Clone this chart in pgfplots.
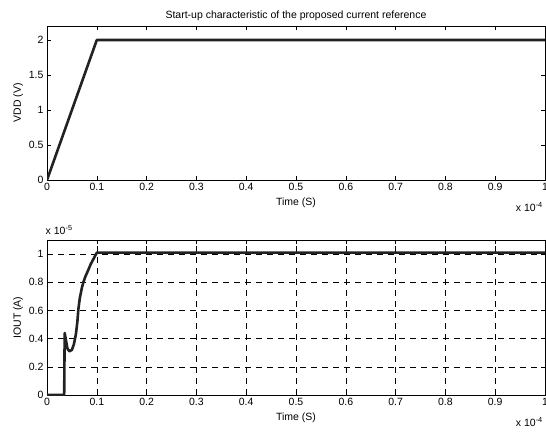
\documentclass[border=0pt]{standalone}
\usepackage{pgfplots}
\pgfplotsset{compat=1.18}
\usepackage{fontspec}
\setmainfont{Liberation Sans}
\definecolor{trace}{HTML}{222222}

\pgfplotsset{
  myax/.style={
    scale only axis, width=498pt, height=154pt,
    xmin=0, xmax=1, xtick={0,0.1,...,1.01},
    xticklabels={0,0.1,0.2,0.3,0.4,0.5,0.6,0.7,0.8,0.9,1},
    tick align=inside, major tick length=4pt,
    tick style={black, line width=0.4pt}, axis line style={black, line width=0.5pt},
    ticklabel style={font=\fontsize{10.5}{11}\selectfont},
    label style={font=\fontsize{10.5}{11}\selectfont},
    /pgf/number format/assume math mode=true,
    xlabel={Time (S)},
    ylabel style={yshift=-1pt},
    clip mode=individual,
  }
}

\begin{document}
\begin{tikzpicture}
\useasboundingbox (0pt,0pt) rectangle (546pt,434pt);

\begin{axis}[myax, at={(47pt,254pt)}, anchor=south west,
  ymin=0, ymax=2.2, ytick={0,0.5,1,1.5,2},
  yticklabels={0,0.5,1,1.5,2},
  ylabel={VDD (V)},
  title={Start-up characteristic of the proposed current reference},
  title style={font=\fontsize{10.5}{11}\selectfont, yshift=-4pt},
]
\addplot[trace, line width=2.6pt, line join=round] coordinates {(0,0) (0.1,2) (1,2)};
\node[font=\fontsize{10.5}{11}\selectfont, anchor=north east, inner sep=1pt] at (rel axis cs:0.998,-0.14) {x 10\textsuperscript{-4}};
\end{axis}

\begin{axis}[myax, at={(47pt,39pt)}, anchor=south west, height=155pt,
  ymin=0, ymax=1.1, ytick={0,0.2,0.4,0.6,0.8,1},
  yticklabels={0,0.2,0.4,0.6,0.8,1},
  ylabel={IOUT (A)},
  grid=major, major grid style={black, line width=0.4pt, dash pattern=on 6pt off 5pt},
]
\addplot[trace, line width=2.6pt, line join=round] coordinates {
(0,0) (0.0345,0) (0.0355,0.44) (0.038,0.39) (0.041,0.33) (0.045,0.31)
(0.050,0.32) (0.054,0.36) (0.058,0.43) (0.061,0.52) (0.063,0.61)
(0.066,0.69) (0.070,0.76) (0.073,0.80) (0.077,0.84) (0.082,0.88)
(0.088,0.93) (0.094,0.97) (0.100,1.01) (1,1.01)};
\node[font=\fontsize{10.5}{11}\selectfont, anchor=north east, inner sep=1pt] at (rel axis cs:0.998,-0.14) {x 10\textsuperscript{-4}};
\node[font=\fontsize{10.5}{11}\selectfont, anchor=south west, inner sep=1pt] at (rel axis cs:-0.005,1.03) {x 10\textsuperscript{-5}};
\end{axis}
\end{tikzpicture}
\end{document}
